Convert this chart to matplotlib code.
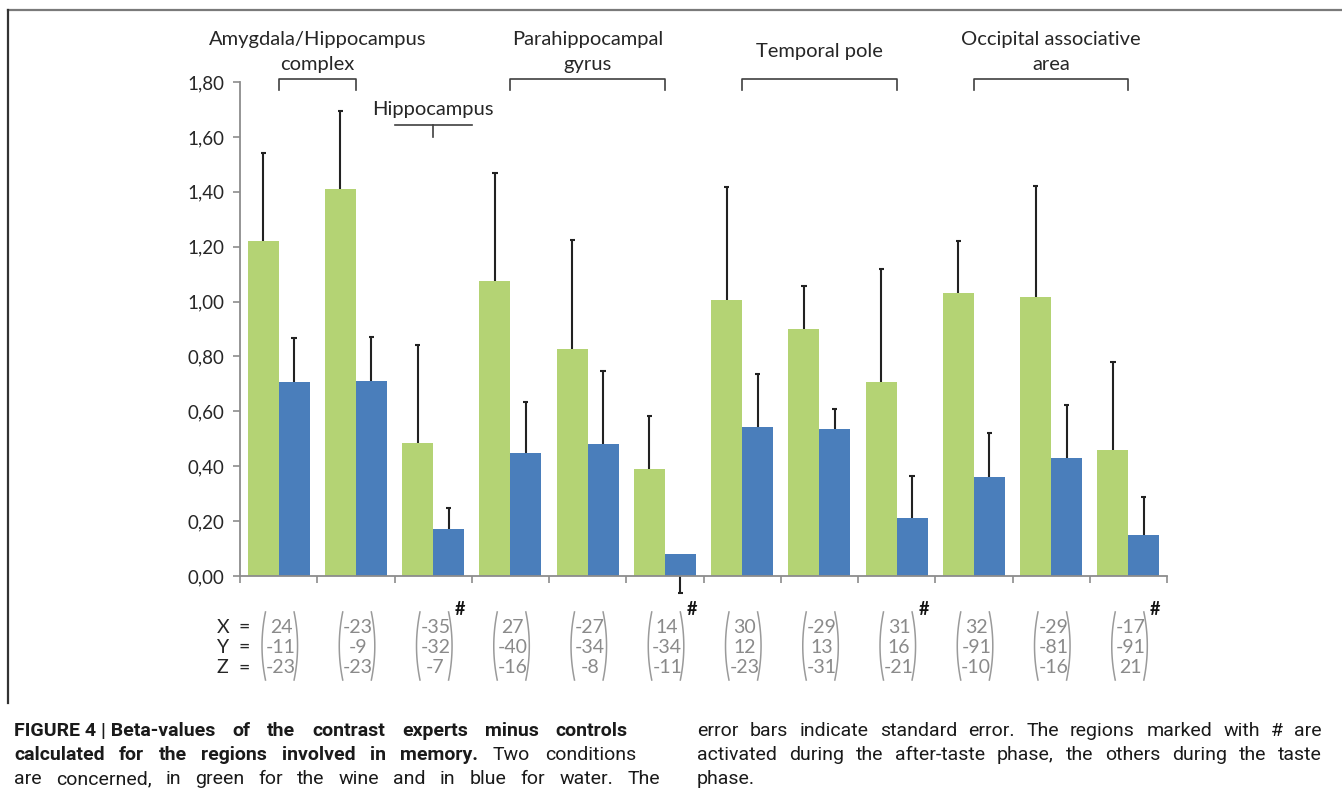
import matplotlib
matplotlib.use("Agg")
import matplotlib.pyplot as plt
import numpy as np
from matplotlib.lines import Line2D

# beta values (wine = green, water = blue) and standard errors
wine = [1.22, 1.41, 0.485, 1.075, 0.827, 0.39, 1.005, 0.90, 0.707, 1.03, 1.016, 0.459]
wine_se = [0.32, 0.285, 0.357, 0.393, 0.397, 0.193, 0.412, 0.156, 0.411, 0.189, 0.404, 0.321]
water = [0.707, 0.71, 0.171, 0.448, 0.481, 0.08, 0.543, 0.535, 0.211, 0.361, 0.43, 0.149]
water_se_up = [0.16, 0.16, 0.077, 0.186, 0.266, 0.0, 0.193, 0.073, 0.153, 0.16, 0.193, 0.139]
water_se_down = [0, 0, 0, 0, 0, 0.142, 0, 0, 0, 0, 0, 0]

# MNI coordinates under each region
coord_x = [24, -23, -35, 27, -27, 14, 30, -29, 31, 32, -29, -17]
coord_y = [-11, -9, -32, -40, -34, -34, 12, 13, 16, -91, -81, -91]
coord_z = [-23, -23, -7, -16, -8, -11, -23, -31, -21, -10, -16, 21]
after_taste = [False, False, True, False, False, True, False, False, True, False, False, True]

# region groups: label, first bar, last bar
groups = [("Amygdala/Hippocampus\ncomplex", 0, 1),
          ("Parahippocampal\ngyrus", 3, 5),
          ("Temporal pole", 6, 8),
          ("Occipital associative\narea", 9, 11)]
single_group = ("Hippocampus", 2)

yticks = [0.0, 0.2, 0.4, 0.6, 0.8, 1.0, 1.2, 1.4, 1.6, 1.8]

GREEN = "#B4D374"
BLUE = "#4A7EBB"
AXIS = "#8C8C8C"
ERR = "#222222"
FONT = ["Lato", "DejaVu Sans"]
CAPFONT = ["Roboto", "DejaVu Sans"]

W, H = 1342, 797
fig = plt.figure(figsize=(W / 100, H / 100), dpi=100)
ax = fig.add_axes([240 / W, 1 - 576 / H, 927 / W, 494 / H])

n = len(wine)
x = np.arange(n)
bw = 0.4
ax.bar(x - bw / 2, wine, bw, color=GREEN, zorder=2)
ax.bar(x + bw / 2, water, bw, color=BLUE, zorder=2)


def error_bars(xs, vals, up, down):
    cap = 0.034
    for xi, v, u, d in zip(xs, vals, up, down):
        if u > 0:
            ax.vlines(xi, v, v + u, color=ERR, lw=1.5, zorder=1)
            ax.hlines(v + u, xi - cap, xi + cap, color=ERR, lw=1.5, zorder=1)
        if d > 0:
            ax.vlines(xi, v - d, v, color=ERR, lw=1.5, zorder=1, clip_on=False)
            ax.hlines(v - d, xi - cap, xi + cap, color=ERR, lw=1.5, zorder=1,
                      clip_on=False)


error_bars(x - bw / 2, wine, wine_se, np.zeros(n))
error_bars(x + bw / 2, water, water_se_up, water_se_down)

ax.set_xlim(-0.5, n - 0.5)
ax.set_ylim(0, 1.8)
ax.set_yticks(yticks)
ax.set_yticklabels([f"{v:.2f}".replace(".", ",") for v in yticks],
                   fontsize=13.5, family=FONT, color="#262626")
ax.set_xticks(np.arange(-0.5, n, 1.0))
ax.set_xticklabels([])
ax.tick_params(axis="both", direction="out", length=5, width=1.2, color=AXIS, pad=6)
for s in ["top", "right"]:
    ax.spines[s].set_visible(False)
for s in ["left", "bottom"]:
    ax.spines[s].set_color(AXIS)
    ax.spines[s].set_linewidth(1.3)

# group brackets above the bars
bk = dict(color="#404040", lw=1.2, clip_on=False)
for label, a, b in groups:
    ax.plot([a, a, b, b], [1.771, 1.811, 1.811, 1.771], **bk)
    ax.text((a + b) / 2, 1.91, label, ha="center", va="center", fontsize=14.5,
            family=FONT, color="#262626", linespacing=1.6)
label, c = single_group
ax.plot([c - 0.5, c + 0.5], [1.644, 1.644], **bk)
ax.plot([c, c], [1.644, 1.600], **bk)
ax.text(c, 1.698, label, ha="center", va="center", fontsize=14.5,
        family=FONT, color="#262626")

# coordinate matrices under the bars
rows_y = [-0.186, -0.259, -0.335]
for name, ry in zip(["X", "Y", "Z"], rows_y):
    ax.text(-0.80, ry, name, ha="left", va="center", fontsize=14, family=FONT,
            color="#262626", clip_on=False)
    ax.text(-0.45, ry, "=", ha="center", va="center", fontsize=14, family=FONT,
            color="#262626", clip_on=False)
t = np.linspace(-1, 1, 40)
py = -0.255 + 0.124 * t
for i in range(n):
    for vals, ry in zip([coord_x, coord_y, coord_z], rows_y):
        ax.text(i + 0.03, ry, str(vals[i]), ha="center", va="center",
                fontsize=14, family=FONT, color="#8A8A8A")
    ax.plot(i + 0.015 - 0.23 + 0.045 * t ** 2, py, color="#9A9A9A", lw=1.1, clip_on=False)
    ax.plot(i + 0.015 + 0.23 - 0.045 * t ** 2, py, color="#9A9A9A", lw=1.1, clip_on=False)
    if after_taste[i]:
        ax.text(i + 0.35, -0.122, "#", ha="center", va="center", fontsize=13,
                family=FONT, weight="bold", color="#111111")

# frame around the figure panel
fig.add_artist(Line2D([8 / W, 1], [1 - 9.5 / H, 1 - 9.5 / H], color="#7A7A7A", lw=1.6))
fig.add_artist(Line2D([8 / W, 8 / W], [1 - 9.5 / H, 1 - 703 / H], color="#333333", lw=1.6))

# caption, justified word by word
renderer = fig.canvas.get_renderer()
CAPSIZE = 14


def caption_line(words, x0, x1, ypx, justify=True):
    arts = []
    for w, bold in words:
        arts.append(fig.text(0, 1 - ypx / H, w, fontsize=CAPSIZE, family=CAPFONT,
                             weight="bold" if bold else "normal", va="baseline",
                             color="#1A1A1A"))
    widths = [a.get_window_extent(renderer).width for a in arts]
    if justify and len(arts) > 1:
        gap = (x1 - x0 - sum(widths)) / (len(arts) - 1)
    else:
        gap = 5
    pos = x0
    for a, w in zip(arts, widths):
        a.set_x(pos / W)
        pos += w + gap


def words(s, bold=False):
    return [(w, bold) for w in s.split()]


caption_line([("FIGURE 4 | Beta-values", True)]
             + words("of the contrast experts minus controls", True), 14, 628, 736)
caption_line(words("calculated for the regions involved in memory.", True)
             + words("Two conditions"), 14, 636, 760)
caption_line(words("are concerned, in green for the wine and in blue for water. The"),
             14, 660, 784)
caption_line(words("error bars indicate standard error. The regions marked with # are"),
             697, 1322, 736)
caption_line(words("activated during the after-taste phase, the others during the taste"),
             697, 1322, 760)
caption_line(words("phase."), 697, 1322, 784, justify=False)

fig.savefig("out.png", dpi=100)
